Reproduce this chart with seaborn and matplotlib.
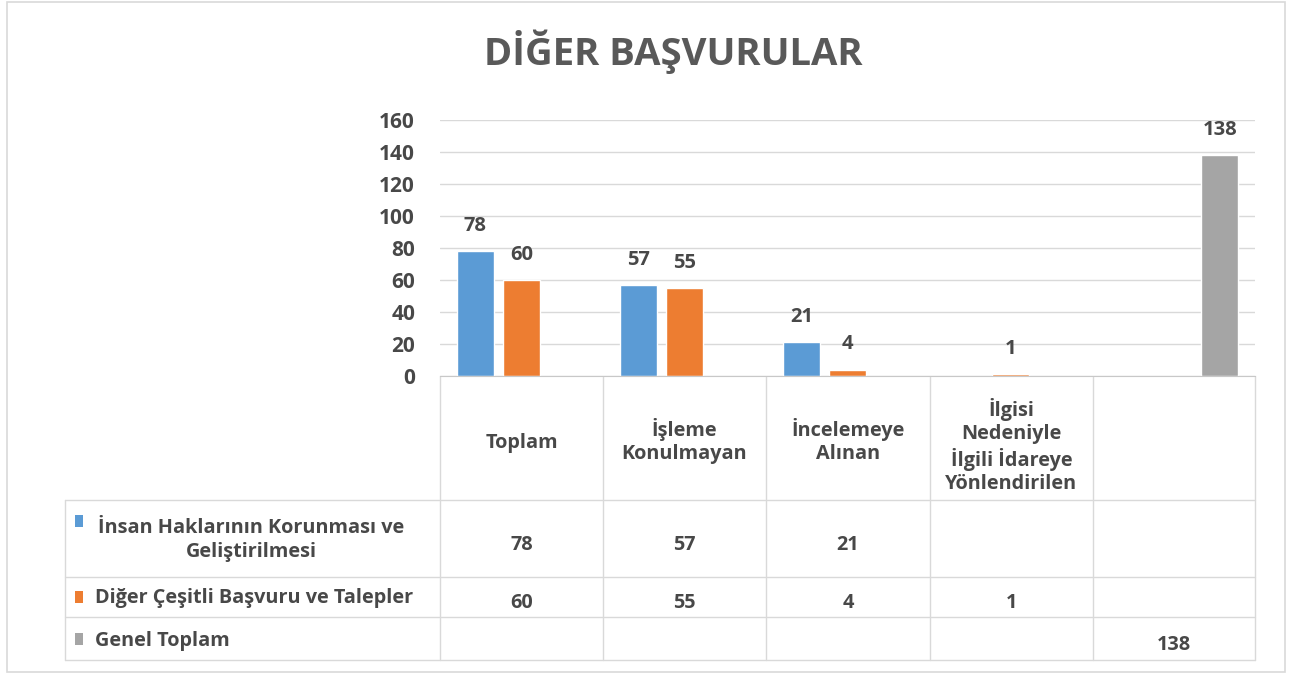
import matplotlib
matplotlib.use("Agg")
import matplotlib.pyplot as plt
import seaborn as sns
import pandas as pd
from matplotlib.patches import Rectangle
from matplotlib.lines import Line2D

# ---------------- data ----------------
title = "DİĞER BAŞVURULAR"
categories = ["Toplam", "İşleme\nKonulmayan", "İncelemeye\nAlınan",
              "İlgisi\nNedeniyle\nİlgili İdareye\nYönlendirilen", " "]
series_names = ["İnsan Haklarının Korunması ve\nGeliştirilmesi",
                "Diğer Çeşitli Başvuru ve Talepler",
                "Genel Toplam"]
insan_haklari = [78, 57, 21, None, None]
diger_cesitli = [60, 55, 4, 1, None]
genel_toplam = [None, None, None, None, 138]
y_ticks = [0, 20, 40, 60, 80, 100, 120, 140, 160]
colors = ["#5B9BD5", "#ED7D31", "#A5A5A5"]

series_values = [insan_haklari, diger_cesitli, genel_toplam]
rows = []
for s, vals in zip(series_names, series_values):
    for c, v in zip(categories, vals):
        if v is not None:
            rows.append({"cat": c, "series": s, "val": v})
df = pd.DataFrame(rows)

# ---------------- figure ----------------
sns.set_style("white")
plt.rcParams["font.family"] = ["Open Sans", "DejaVu Sans"]
W, H = 1291, 675
fig = plt.figure(figsize=(W / 100, H / 100), dpi=100)
fig.patch.set_facecolor("white")

def fx(px):
    return px / W

def fy(py):
    return 1 - py / H

TXT = "#484848"
GRID = "#d9d9d9"
FS = 14.3

left, right, top, bottom = 440, 1255, 120, 376
ax = fig.add_axes([fx(left), fy(bottom), (right - left) / W, (bottom - top) / H])
sns.barplot(data=df, x="cat", y="val", hue="series", order=categories,
            hue_order=series_names, palette=colors, saturation=1,
            width=0.85, gap=0.2, errorbar=None, legend=False, ax=ax)
ax.set_xlim(-0.5, len(categories) - 0.5)
ax.set_ylim(y_ticks[0], y_ticks[-1])
ax.set_yticks(y_ticks)
ax.set_yticklabels([str(t) for t in y_ticks], fontsize=15, fontweight="bold",
                   color=TXT)
ax.set_xticks([])
ax.set_xlabel("")
ax.set_ylabel("")
ax.yaxis.grid(True, color=GRID, lw=1)
ax.set_axisbelow(True)
for sp in ["top", "right", "left"]:
    ax.spines[sp].set_visible(False)
ax.spines["bottom"].set_color("#c8c8c8")
ax.tick_params(axis="y", length=0, pad=18)

for cont in ax.containers:
    labels = [f"{int(round(b.get_height()))}" for b in cont]
    ax.bar_label(cont, labels=labels, padding=11, fontsize=14.5,
                 fontweight="bold", color=TXT)

# ---------------- data table ----------------
tab = fig.add_axes([0, 0, 1, 1], zorder=-1)
tab.set_xlim(0, W)
tab.set_ylim(H, 0)
tab.axis("off")

col_x = [440, 603, 766, 930, 1093, 1255]
row_y = [376, 500, 577, 617, 660]
label_left = 65

def hline(y, x0, x1):
    tab.add_line(Line2D([x0, x1], [y, y], color=GRID, lw=1))

def vline(x, y0, y1):
    tab.add_line(Line2D([x, x], [y0, y1], color=GRID, lw=1))

for y in row_y[1:]:
    hline(y, label_left, col_x[-1])
for x in col_x:
    vline(x, row_y[0], row_y[-1])
vline(label_left, row_y[1], row_y[-1])

# header
for i, c in enumerate(categories):
    cx = (col_x[i] + col_x[i + 1]) / 2
    n = c.count("\n")
    cy = 443 + (3 if n >= 3 else 0) - (2 if n == 1 else 0)
    tab.text(cx, cy, c, ha="center", va="center", fontsize=FS,
             fontweight="bold", color=TXT, linespacing=1.2)

# row labels with legend keys
label_pos = [(251, 540, "center", 522), (95, 598, "left", 598),
             (95, 641, "left", 640)]
for (lx, ly, ha, my), name, col in zip(label_pos, series_names, colors):
    tab.add_patch(Rectangle((75, my - 7), 8, 12, color=col, lw=0))
    tab.text(lx, ly, name, ha=ha, va="center", fontsize=FS,
             fontweight="bold", color=TXT, linespacing=1.25,
             multialignment="center")

# values
for r, vals in enumerate(series_values):
    cy = (row_y[r + 1] + row_y[r + 2]) / 2 + 6
    for i, v in enumerate(vals):
        if v is not None:
            cx = (col_x[i] + col_x[i + 1]) / 2
            tab.text(cx, cy, str(v), ha="center", va="center", fontsize=FS,
                     fontweight="bold", color=TXT)

# outer border
tab.add_patch(Rectangle((7, 2), 1278, 670, fill=False, edgecolor="#d9d9d9", lw=1.2))

# title
fig.text(fx(673), fy(52), title, ha="center", va="center", fontsize=27.5,
         fontweight="bold", color="#595959")

fig.savefig("out.png", dpi=100, facecolor="white")
